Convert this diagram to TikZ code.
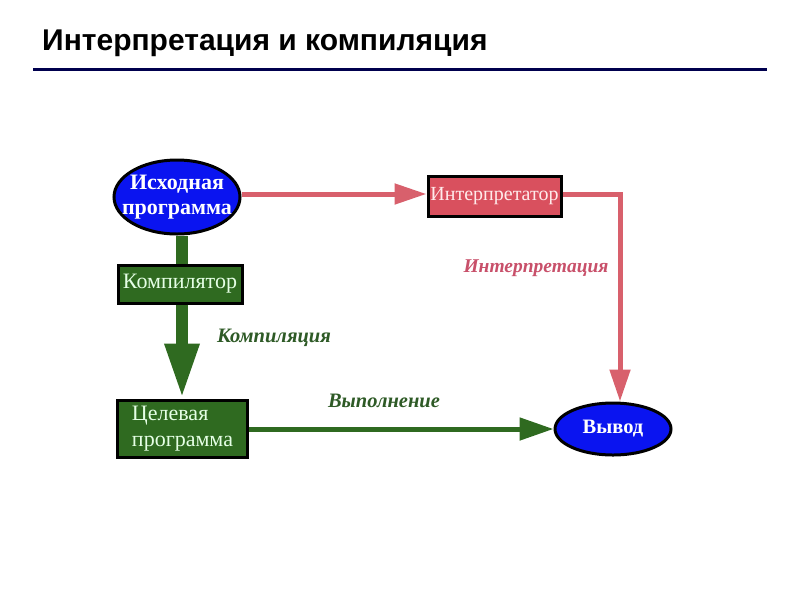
\documentclass[tikz,border=0pt]{standalone}
\usepackage{fontspec}
\setmainfont{Liberation Serif}
\newfontfamily\titlefont{Liberation Sans}
\usetikzlibrary{arrows.meta,shapes.geometric}
\definecolor{navy}{HTML}{00004E}
\definecolor{bblue}{HTML}{0A14F0}
\definecolor{rred}{HTML}{D9505E}
\definecolor{rline}{HTML}{D8606C}
\definecolor{ggreen}{HTML}{2F6A20}
\definecolor{gtext}{HTML}{2E5A26}
\definecolor{rtext}{HTML}{C8506A}
\begin{document}
\begin{tikzpicture}[x=1pt,y=-1pt,
  ellnode/.style={ellipse,draw=black,line width=3pt,fill=bblue,text=white,inner sep=0pt},
  redbox/.style={rectangle,draw=black,line width=3pt,fill=rred,text=white!92!red,font=\fontsize{20}{20}\selectfont,inner sep=0pt},
  greenbox/.style={rectangle,draw=black,line width=3pt,fill=ggreen,text=green!10!white,inner sep=0pt},
  lbl/.style={font=\bfseries\itshape\fontsize{20.5}{20.5}\selectfont,inner sep=0pt},
  redarrow/.style={draw=rline,line width=5pt,-{Triangle[length=32pt,width=20pt]}},
  greenarrow/.style={draw=ggreen,line width=5pt,-{Triangle[length=34pt,width=22pt]}}
]
\useasboundingbox (0,0) rectangle (794,595);
\node[anchor=base west,inner sep=0pt,font=\titlefont\bfseries\fontsize{30}{30}\selectfont] (title) at (42,50) {Интерпретация и компиляция};
\draw[navy,line width=3pt] (33,69) -- (767,69);

\node[ellnode,minimum width=126pt,minimum height=74pt,inner xsep=-14pt,inner ysep=1pt,align=center,font=\bfseries\fontsize{22}{25}\selectfont] (src) at (177,197) {Исходная\\программа};
\node[redbox,minimum width=133pt,minimum height=40pt] (interp) at (494.5,196) {Интерпретатор};
\node[greenbox,minimum width=124pt,minimum height=38pt,font=\fontsize{22}{22}\selectfont] (comp) at (180,284) {Компилятор};
\node[greenbox,minimum width=130pt,minimum height=57pt,inner xsep=9pt,anchor=west,align=left,font=\fontsize{22}{26}\selectfont] (target) at (116,428.5) {Целевая\\программа};
\node[ellnode,minimum width=116pt,minimum height=52pt,font=\bfseries\fontsize{20.5}{20.5}\selectfont] (out) at (613,429) {Вывод};

\coordinate (corner) at (620,194);
\draw[redarrow] (src.east |- 0,194) -- (interp.west |- 0,194);
\draw[draw=rline,line width=5pt] (interp.east |- 0,194) -- (corner) -- (620,300);
\draw[redarrow] (620,290) -- (out.north -| 620,0);

\draw[ggreen,line width=12pt] (src.south -| 182,0) -- (comp.north -| 182,0);
\draw[draw=ggreen,line width=12pt,-{Triangle[length=55pt,width=32pt]}] (comp.south -| 182,0) -- (target.north -| 182,0);
\draw[greenarrow] (target.east |- out.west) -- (out.west);

\node[lbl,text=rtext,anchor=center,font=\bfseries\itshape\fontsize{19.5}{19.5}\selectfont] (l1) at (536,268) {Интерпретация};
\node[lbl,text=gtext,anchor=center] (l2) at (274,338) {Компиляция};
\node[lbl,text=gtext,anchor=center] (l3) at (384,401) {Выполнение};
\end{tikzpicture}
\end{document}
